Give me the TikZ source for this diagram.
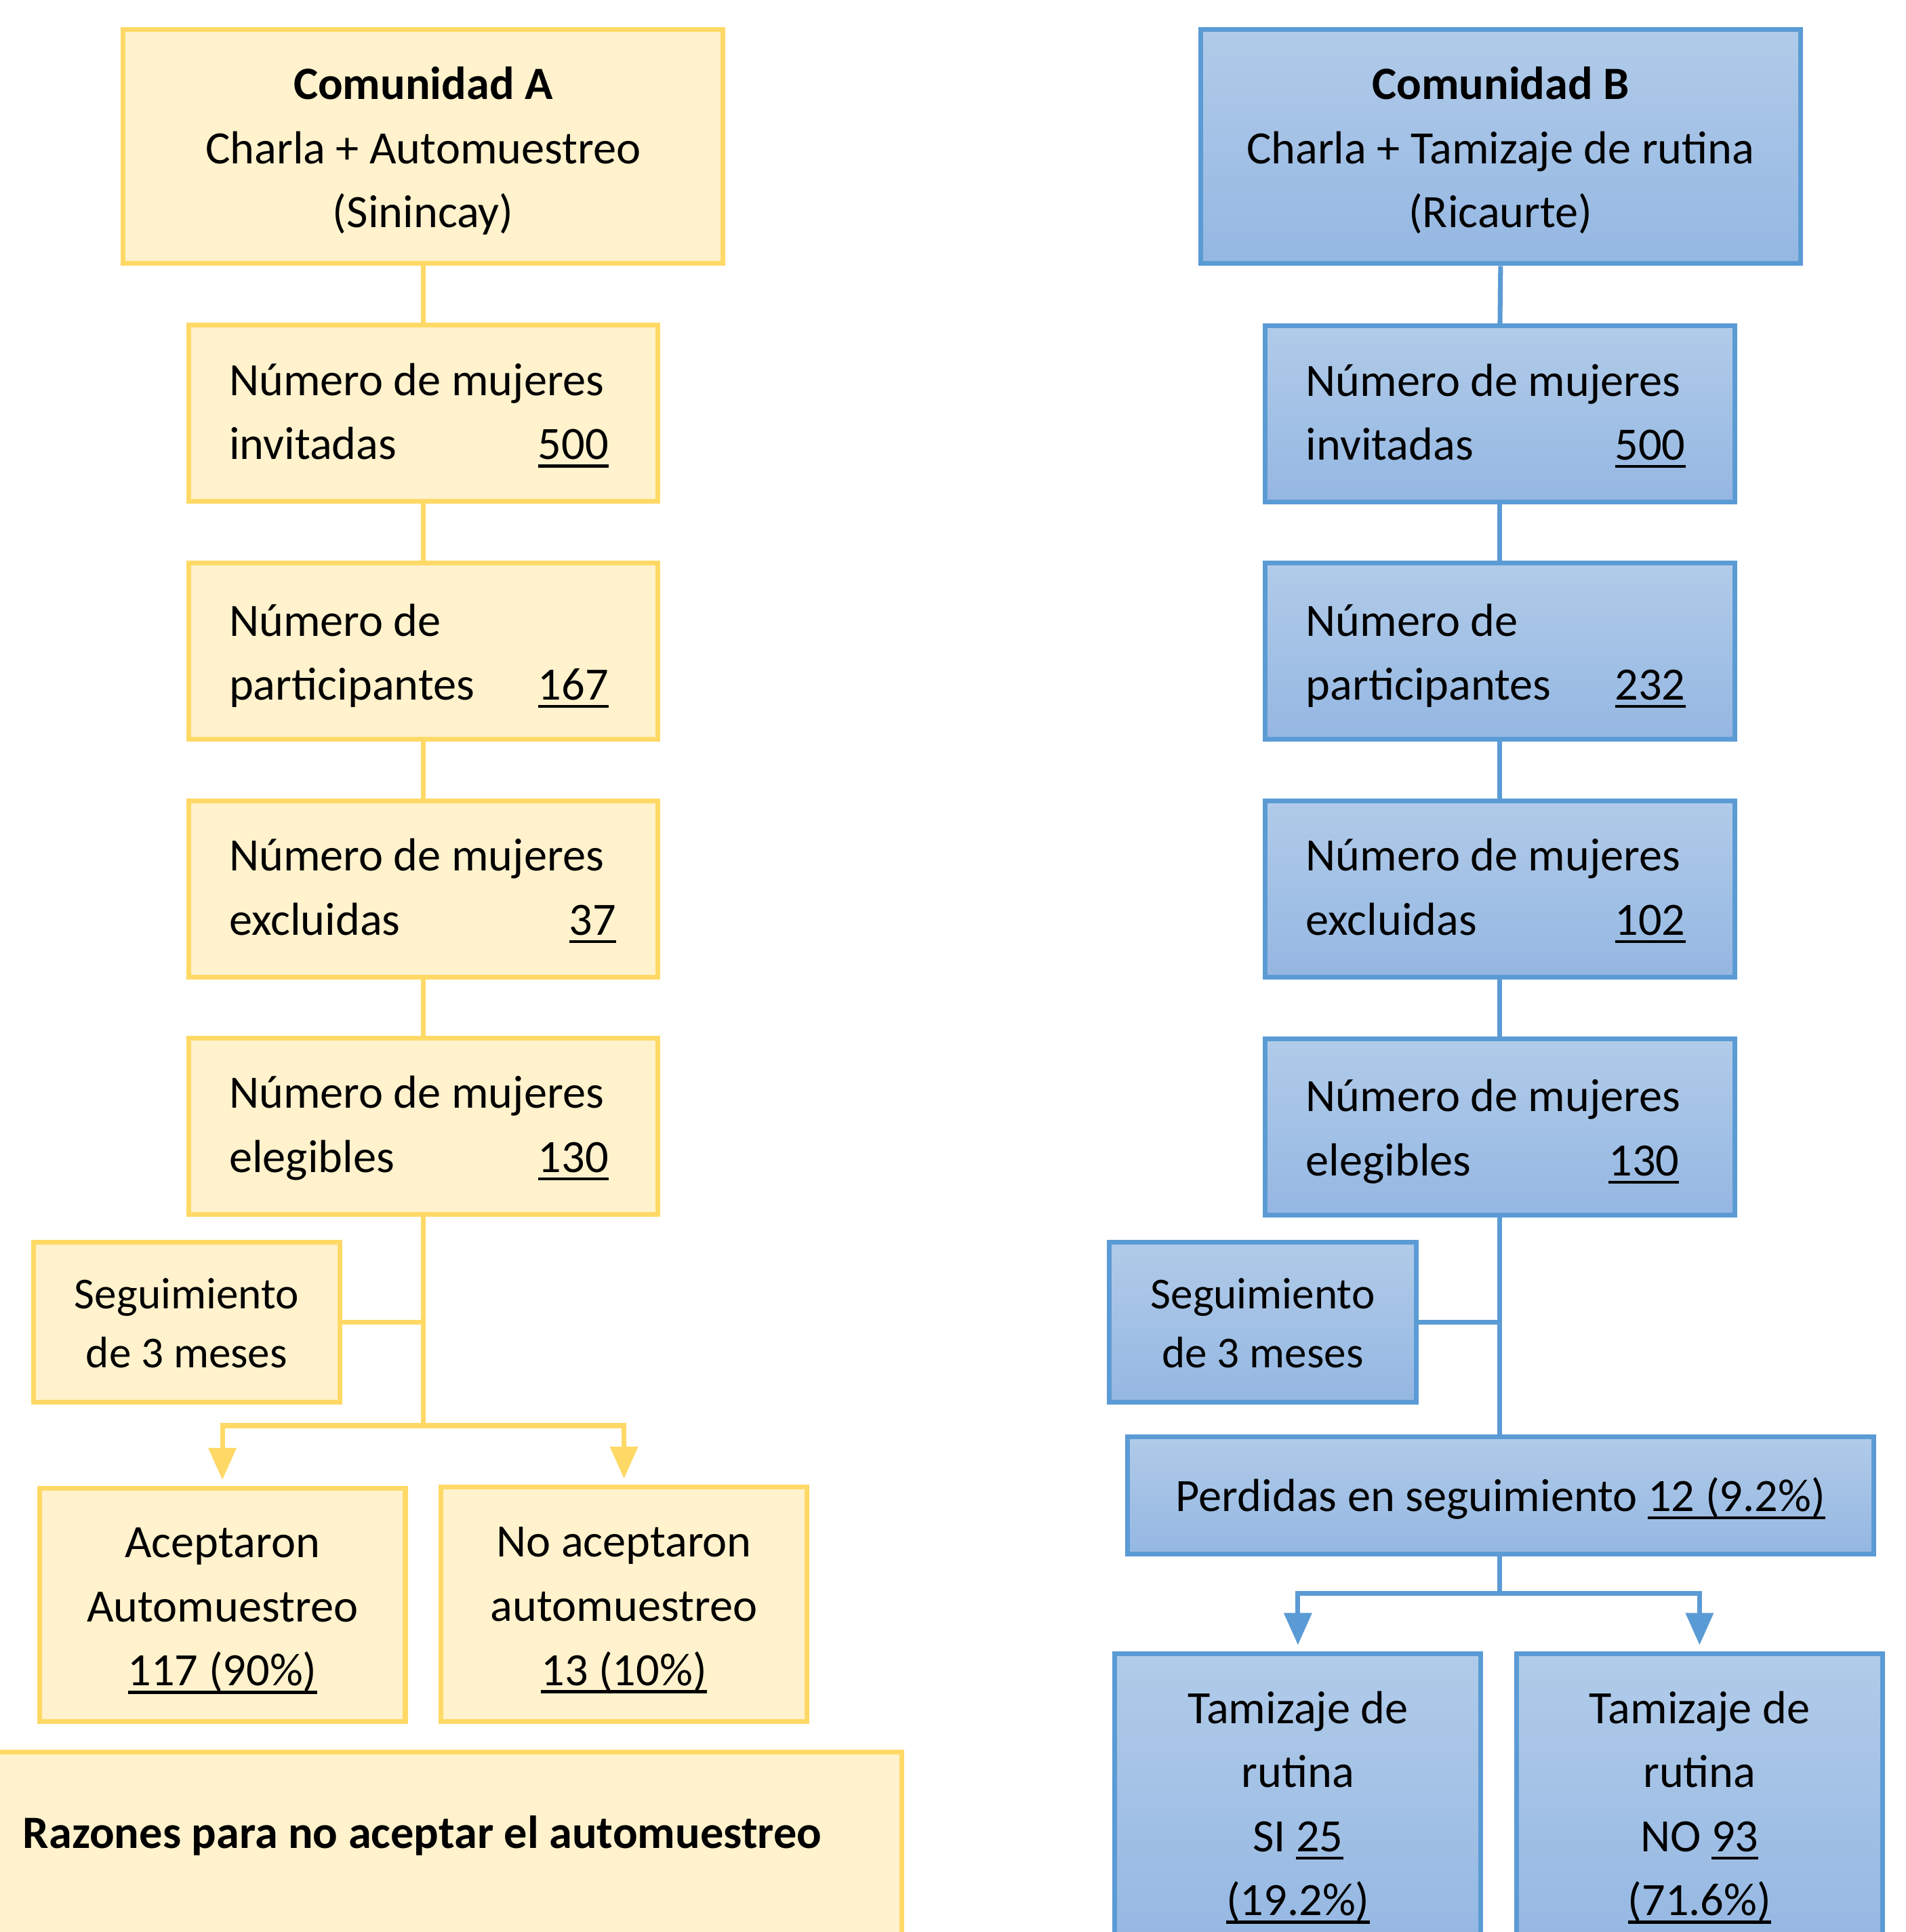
\documentclass[tikz,border=0pt]{standalone}
\usepackage{fontspec}
\setmainfont{Carlito}
\usetikzlibrary{arrows.meta}
\definecolor{amarillo}{HTML}{FFF2CC}
\definecolor{amarilloborde}{HTML}{FFD966}
\definecolor{azulborde}{HTML}{5B9BD5}
\definecolor{azularriba}{HTML}{B1CBE9}
\definecolor{azulabajo}{HTML}{94B7E2}
\newcommand{\renglon}[2]{\makebox[3.15cm][l]{#1\hfill#2\hspace*{0.07cm}}}
\newcommand{\pun}{\rule[-0.25em]{0pt}{1.2em}}
\newcommand{\arr}{\rule{0pt}{0.98em}}
\newcommand{\arrm}{\rule{0pt}{0.86em}}
\newlength{\anchosub}
\newcommand{\subr}[1]{\settowidth{\anchosub}{#1}\rlap{\rule[-0.17em]{\anchosub}{0.065em}}#1}

\begin{document}
\begin{tikzpicture}
        % Styles
        \tikzstyle{caja}=[rectangle,line width=1.1pt,inner sep=0pt,font=\fontsize{10.7pt}{14.8pt}\selectfont,
            execute at begin node=\pun,execute at end node=\pun]
        \tikzstyle{cajaA}=[caja,draw=amarilloborde,fill=amarillo]
        \tikzstyle{cajaB}=[caja,draw=azulborde,top color=azularriba,bottom color=azulabajo]
        \tikzstyle{titulo}=[minimum width=4.87cm,minimum height=1.90cm,align=center]
        \tikzstyle{numero}=[minimum width=3.81cm,minimum height=1.43cm,align=left]
        \tikzstyle{seguim}=[minimum width=2.49cm,minimum height=1.30cm,align=center,font=\fontsize{10.2pt}{13.7pt}\selectfont]
        \tikzstyle{resultado}=[minimum width=2.97cm,align=center]
        \tikzstyle{lineaA}=[line width=1.1pt,draw=amarilloborde]
        \tikzstyle{lineaB}=[line width=1.1pt,draw=azulborde]
        \tikzstyle{flechaA}=[lineaA,-{Triangle[length=0.26cm,width=0.22cm]}]
        \tikzstyle{flechaB}=[lineaB,-{Triangle[length=0.26cm,width=0.22cm]}]
        %The graphic
        \path[use as bounding box,fill=white] (0,0) rectangle (15.47,-15.68);
        \clip (0,0) rectangle (15.47,-15.68);
        %comunidad A
        \node[cajaA,titulo] (comA) at (3.435,-1.19) {\arr\textbf{Comunidad A}\\Charla + Automuestreo\\(Sinincay)};
        \node[cajaA,numero] (invA) at (3.435,-3.355) {\arrm Número de mujeres\\\renglon{invitadas}{\subr{500}}};
        \node[cajaA,numero] (partA) at (3.435,-5.285) {\arr Número de\\\renglon{participantes}{\subr{167}}};
        \node[cajaA,numero] (excA) at (3.435,-7.215) {\arrm Número de mujeres\\\renglon{excluidas}{\subr{37}\hspace*{-0.06cm}}};
        \node[cajaA,numero] (eleA) at (3.435,-9.14) {\arrm Número de mujeres\\\renglon{elegibles}{\subr{130}}};
        \node[cajaA,seguim] (segA) at (1.515,-10.73) {\arr Seguimiento\\de 3 meses};
        \node[cajaA,resultado,minimum height=1.89cm] (aceA) at (1.805,-13.025) {\arr Aceptaron\\Automuestreo\\\subr{117 (90\%)}};
        \node[cajaA,resultado,minimum height=1.90cm] (noA) at (5.065,-13.02) {\arr No aceptaron\\automuestreo\\\subr{13 (10\%)}};
        \node[cajaA,anchor=north west,minimum width=7.40cm,minimum height=2.0cm] (razA) at (-0.1,-14.20) {};
        \node[anchor=west,inner sep=0pt,font=\fontsize{10.7pt}{14.8pt}\selectfont\bfseries] (razAtxt) at (0.18,-14.90) {Razones para no aceptar el automuestreo};
        %comunidad B
        \node[cajaB,titulo] (comB) at (12.18,-1.19) {\arr\textbf{Comunidad B}\\Charla + Tamizaje de rutina\\(Ricaurte)};
        \node[cajaB,numero] (invB) at (12.175,-3.36) {\arrm Número de mujeres\\\renglon{invitadas}{\subr{500}}};
        \node[cajaB,numero] (partB) at (12.175,-5.285) {\arr Número de\\\renglon{participantes}{\subr{232}}};
        \node[cajaB,numero] (excB) at (12.175,-7.215) {\arrm Número de mujeres\\\renglon{excluidas}{\subr{102}}};
        \node[cajaB,numero] (eleB) at (12.175,-9.145) {\arr Número de mujeres\\\renglon{elegibles}{\subr{130}\hspace*{0.05cm}}};
        \node[cajaB,seguim] (segB) at (10.25,-10.73) {\arr Seguimiento\\de 3 meses};
        \node[cajaB,minimum width=6.06cm,minimum height=0.95cm] (perB) at (12.18,-12.135) {Perdidas en seguimiento \subr{12 (9.2\%)}};
        \node[cajaB,resultado,minimum height=2.42cm] (siB) at (10.535,-14.63) {\arr Tamizaje de\\rutina\\SI \subr{25}\\\subr{(19.2\%)}};
        \node[cajaB,resultado,minimum height=2.42cm] (noB) at (13.795,-14.63) {\arr Tamizaje de\\rutina\\NO \subr{93}\\\subr{(71.6\%)}};
        %lines
        \foreach \a/\b in {comA/invA,invA/partA,partA/excA,excA/eleA}
            \draw[lineaA] (\a.south) -- (\b.north);
        \foreach \a/\b in {comB/invB,invB/partB,partB/excB,excB/eleB}
            \draw[lineaB] (\a.south) -- (\b.north);
        \coordinate (ramA) at (3.435,-11.57);
        \draw[lineaA] (eleA.south) -- (ramA);
        \draw[lineaA] (segA.east) -- (segA.east -| ramA);
        \draw[flechaA] (ramA) -| ([yshift=0.05cm]aceA.north);
        \draw[flechaA] (ramA) -| ([yshift=0.05cm]noA.north);
        \coordinate (ramB) at (12.175,-12.93);
        \draw[lineaB] (eleB.south) -- (eleB.south |- perB.north);
        \draw[lineaB] (segB.east) -- (segB.east -| eleB.south);
        \draw[lineaB] (perB.south -| ramB) -- (ramB);
        \draw[flechaB] (ramB) -| ([yshift=0.05cm]siB.north);
        \draw[flechaB] (ramB) -| ([yshift=0.05cm]noB.north);
\end{tikzpicture}
\end{document}
